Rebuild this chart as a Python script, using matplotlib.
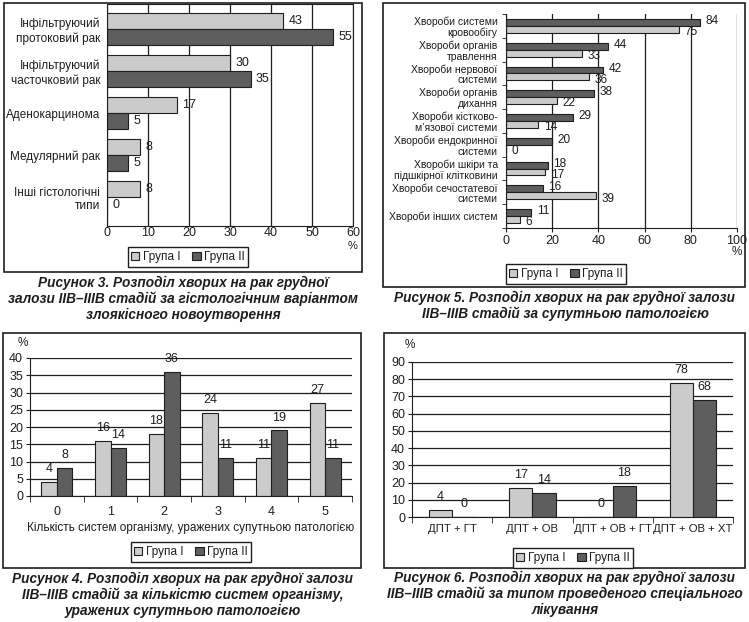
import numpy as np
import matplotlib
matplotlib.use("Agg")
import matplotlib.pyplot as plt
from matplotlib.patches import Rectangle

plt.rcParams['font.family'] = ['Liberation Sans', 'DejaVu Sans']

# --- data ---
groups = ["Група I", "Група II"]

hist_types = ["Інфільтруючий\nпротоковий рак", "Інфільтруючий\nчасточковий рак",
              "Аденокарцинома", "Медулярний рак", "Інші гістологічні\nтипи"]
hist_g1 = [43, 30, 17, 8, 8]
hist_g2 = [55, 35, 5, 5, 0]

comorb = ["Хвороби системи\nкровообігу", "Хвороби органів\nтравлення",
          "Хвороби нервової\nсистеми", "Хвороби органів\nдихання",
          "Хвороби кістково-\nм’язової системи", "Хвороби ендокринної\nсистеми",
          "Хвороби шкіри та\nпідшкірної клітковини", "Хвороби сечостатевої\nсистеми",
          "Хвороби інших систем"]
comorb_g1 = [75, 33, 36, 22, 14, 0, 17, 39, 6]
comorb_g2 = [84, 44, 42, 38, 29, 20, 18, 16, 11]

n_systems = ["0", "1", "2", "3", "4", "5"]
nsys_g1 = [4, 16, 18, 24, 11, 27]
nsys_g2 = [8, 14, 36, 11, 19, 11]

treatment = ["ДПТ + ГТ", "ДПТ + ОВ", "ДПТ + ОВ + ГТ", "ДПТ + ОВ + ХТ"]
treat_g1 = [4, 17, 0, 78]
treat_g2 = [0, 14, 18, 68]

captions = [
    "Рисунок 3. Розподіл хворих на рак грудної\nзалози IIB–IIIB стадій за гістологічним варіантом\nзлоякісного новоутворення",
    "Рисунок 5. Розподіл хворих на рак грудної залози\nIIB–IIIB стадій за супутньою патологією",
    "Рисунок 4. Розподіл хворих на рак грудної залози\nIIB–IIIB стадій за кількістю систем організму,\nуражених супутньою патологією",
    "Рисунок 6. Розподіл хворих на рак грудної залози\nIIB–IIIB стадій за типом проведеного спеціального\nлікування",
]

W, H = 749, 622
LIGHT = '#cbcbcb'
DARK = '#5e5e5e'
INK = '#1e1e1e'
CAP_FS = 9.8

fig = plt.figure(figsize=(W / 100, H / 100), dpi=100)


def axes_px(l, t, r, b):
    return fig.add_axes([l / W, 1 - b / H, (r - l) / W, (b - t) / H])


def frame_px(l, t, r, b):
    fig.add_artist(Rectangle((l / W, 1 - b / H), (r - l) / W, (b - t) / H,
                             transform=fig.transFigure, fill=False,
                             edgecolor=INK, lw=1.2))


def legend_px(handles, cx, cy):
    leg = fig.legend(handles, groups, loc='center', bbox_to_anchor=(cx / W, 1 - cy / H),
                     ncol=2, fontsize=8.5, handlelength=0.7, handleheight=0.7,
                     handletextpad=0.3, columnspacing=1.0, borderpad=0.3,
                     fancybox=False, framealpha=1, edgecolor=INK)
    leg.get_frame().set_linewidth(1.0)
    for t in leg.get_texts():
        t.set_color(INK)


def label_h(ax, bars, dy=0, fs=9):
    for b in bars:
        v = b.get_width()
        ax.annotate(f"{v:g}", xy=(v, b.get_y() + b.get_height() / 2), xytext=(4, dy),
                    textcoords='offset points', va='center', ha='left', fontsize=fs, color=INK)


def label_v(ax, bars, fs=9):
    for b in bars:
        v = b.get_height()
        ax.annotate(f"{v:g}", xy=(b.get_x() + b.get_width() / 2, v), xytext=(0, 5),
                    textcoords='offset points', va='bottom', ha='center', fontsize=fs, color=INK)


# --- Panel 1: histological type ---
frame_px(4, 3, 362, 272)
ax1 = axes_px(107, 4, 353, 226)
y = np.arange(len(hist_types))
b11 = ax1.barh(y - 0.185, hist_g1, height=0.37, color=LIGHT, edgecolor=INK, lw=0.8)
b12 = ax1.barh(y + 0.185, hist_g2, height=0.37, color=DARK, edgecolor=INK, lw=0.8)
label_h(ax1, b11)
label_h(ax1, b12)
ax1.set_xlim(0, 60)
ax1.set_ylim(4.69, -0.595)
ax1.set_xticks(range(0, 61, 10))
ax1.set_yticks(y)
ax1.set_yticklabels(hist_types, fontsize=8.5, color=INK, ha='right', multialignment='right')
ax1.tick_params(axis='y', length=0, pad=5)
ax1.tick_params(axis='x', length=0, pad=1, labelsize=9, labelcolor=INK)
ax1.grid(axis='x', color=INK, lw=0.9)
ax1.set_axisbelow(True)
for s in ax1.spines.values():
    s.set_color(INK)
ax1.annotate('%', xy=(1, 0), xycoords='axes fraction', xytext=(0, -14.5),
             textcoords='offset points', ha='center', va='center', fontsize=8, color=INK)
legend_px([b11, b12], 188, 257)
fig.text(183 / W, 1 - 276 / H, captions[0], ha='center', va='top', fontsize=CAP_FS,
         fontweight='bold', fontstyle='italic', linespacing=1.15, color=INK)

# --- Panel 2: comorbidities ---
frame_px(383, 3, 745, 287)
ax2 = axes_px(506, 14, 737, 228)
y = np.arange(len(comorb))
b22 = ax2.barh(y - 0.145, comorb_g2, height=0.29, color=DARK, edgecolor=INK, lw=0.8)
b21 = ax2.barh(y + 0.145, comorb_g1, height=0.29, color=LIGHT, edgecolor=INK, lw=0.8)
label_h(ax2, b22, dy=1, fs=8.5)
label_h(ax2, b21, dy=-2, fs=8.5)
ax2.set_xlim(0, 100)
ax2.set_ylim(8.5, -0.5)
ax2.set_xticks(range(0, 101, 20))
ax2.set_yticks(y)
ax2.set_yticklabels(comorb, fontsize=7.5, color=INK, ha='right', multialignment='right',
                    linespacing=1.1)
ax2.set_yticks(np.arange(-0.5, 9, 1), minor=True)
ax2.tick_params(axis='y', which='major', length=0, pad=6)
ax2.tick_params(axis='y', which='minor', length=3, color=INK)
ax2.tick_params(axis='x', length=3, pad=2, labelsize=9, labelcolor=INK, color=INK)
ax2.grid(axis='x', color=INK, lw=0.9)
ax2.set_axisbelow(True)
ax2.spines['top'].set_visible(False)
ax2.spines['right'].set_visible(False)
for s in ('left', 'bottom'):
    ax2.spines[s].set_color(INK)
ax2.annotate('%', xy=(1, 0), xycoords='axes fraction', xytext=(0, -17),
             textcoords='offset points', ha='center', va='center', fontsize=8.5, color=INK)
legend_px([b21, b22], 566, 274)
fig.text(565 / W, 1 - 291 / H, captions[1], ha='center', va='top', fontsize=CAP_FS,
         fontweight='bold', fontstyle='italic', linespacing=1.15, color=INK)

# --- Panel 3: number of affected systems ---
frame_px(3, 333, 361, 568)
ax3 = axes_px(30, 358, 352, 496)
x = np.arange(len(n_systems))
b31 = ax3.bar(x - 0.145, nsys_g1, width=0.29, color=LIGHT, edgecolor=INK, lw=0.8)
b32 = ax3.bar(x + 0.145, nsys_g2, width=0.29, color=DARK, edgecolor=INK, lw=0.8)
label_v(ax3, b31)
label_v(ax3, b32)
ax3.set_xlim(-0.5, 5.5)
ax3.set_ylim(0, 40)
ax3.set_yticks(range(0, 41, 5))
ax3.set_xticks(x)
ax3.set_xticklabels(n_systems)
ax3.set_xticks(np.arange(-0.5, 6, 1), minor=True)
ax3.tick_params(axis='x', which='major', length=0, pad=7, labelsize=9, labelcolor=INK)
ax3.tick_params(axis='x', which='minor', length=4, color=INK)
ax3.tick_params(axis='y', length=3, pad=2, labelsize=9, labelcolor=INK, color=INK)
ax3.set_xlabel("Кількість систем організму, уражених супутньою патологією",
               fontsize=8.5, color=INK, labelpad=3)
ax3.grid(axis='y', color=INK, lw=0.9)
ax3.set_axisbelow(True)
ax3.spines['top'].set_visible(False)
ax3.spines['right'].set_visible(False)
for s in ('left', 'bottom'):
    ax3.spines[s].set_color(INK)
fig.text(23 / W, 1 - 343 / H, '%', ha='center', va='center', fontsize=8.5, color=INK)
legend_px([b31, b32], 191, 552)
fig.text(183 / W, 1 - 572 / H, captions[2], ha='center', va='top', fontsize=CAP_FS,
         fontweight='bold', fontstyle='italic', linespacing=1.15, color=INK)

# --- Panel 4: treatment type ---
frame_px(384, 333, 745, 568)
ax4 = axes_px(412, 362, 733, 517)
x = np.arange(len(treatment))
b41 = ax4.bar(x - 0.145, treat_g1, width=0.29, color=LIGHT, edgecolor=INK, lw=0.8)
b42 = ax4.bar(x + 0.145, treat_g2, width=0.29, color=DARK, edgecolor=INK, lw=0.8)
label_v(ax4, b41)
label_v(ax4, b42)
ax4.set_xlim(-0.5, 3.5)
ax4.set_ylim(0, 90)
ax4.set_yticks(range(0, 91, 10))
ax4.set_xticks(x)
ax4.set_xticklabels(treatment)
ax4.set_xticks(np.arange(-0.5, 4, 1), minor=True)
ax4.tick_params(axis='x', which='major', length=0, pad=5, labelsize=8.2, labelcolor=INK)
ax4.tick_params(axis='x', which='minor', length=4, color=INK)
ax4.tick_params(axis='y', length=3, pad=2, labelsize=9, labelcolor=INK, color=INK)
ax4.grid(axis='y', color=INK, lw=0.9)
ax4.set_axisbelow(True)
ax4.spines['top'].set_visible(False)
ax4.spines['right'].set_visible(False)
for s in ('left', 'bottom'):
    ax4.spines[s].set_color(INK)
fig.text(410 / W, 1 - 345 / H, '%', ha='center', va='center', fontsize=8.5, color=INK)
legend_px([b41, b42], 573, 558)
fig.text(565 / W, 1 - 571 / H, captions[3], ha='center', va='top', fontsize=CAP_FS,
         fontweight='bold', fontstyle='italic', linespacing=1.15, color=INK)

fig.savefig("out.png", dpi=100)
